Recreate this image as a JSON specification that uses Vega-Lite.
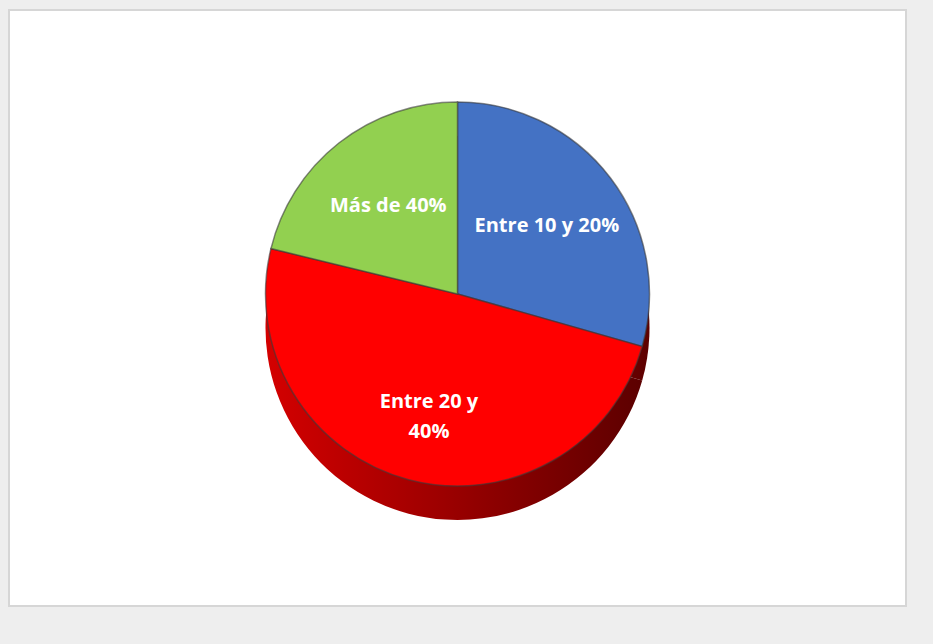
{
  "$schema": "https://vega.github.io/schema/vega-lite/v6.json",
  "width": 897,
  "height": 596,
  "padding": {"left": 9, "top": 10, "right": 27, "bottom": 38},
  "autosize": {"type": "none"},
  "background": "#eeeeee",
  "view": {"fill": "white", "stroke": "#d6d6d6", "strokeWidth": 2},
  "data": {"values": [
    {"categoria": "Entre 10 y 20%", "etiqueta": "Entre 10 y 20%", "valor": 29.4, "o": 1},
    {"categoria": "Entre 20 y 40%", "etiqueta": "Entre 20 y\n40%", "valor": 49.4, "o": 2},
    {"categoria": "Más de 40%", "etiqueta": "Más de 40%", "valor": 21.2, "o": 3}
  ]},
  "encoding": {
    "theta": {"field": "valor", "type": "quantitative", "stack": true},
    "order": {"field": "o", "type": "quantitative"}
  },
  "layer": [
    {
      "mark": {"type": "arc", "outerRadius": 192, "yOffset": 20,
        "color": {"gradient": "linear", "x1": 0, "x2": 1, "y1": 0, "y2": 0,
          "stops": [{"offset": 0, "color": "#d40000"}, {"offset": 0.5, "color": "#990000"}, {"offset": 1, "color": "#5c0000"}]}}
    },
    {
      "mark": {"type": "arc", "outerRadius": 192, "yOffset": -14, "stroke": "#3a3a3a", "strokeWidth": 1.5, "strokeOpacity": 0.6},
      "encoding": {
        "color": {"field": "categoria", "type": "nominal", "legend": null,
          "scale": {"domain": ["Entre 10 y 20%", "Entre 20 y 40%", "Más de 40%"], "range": ["#4472c4", "#ff0000", "#92d050"]}}
      }
    },
    {
      "mark": {"type": "text", "radius": 112, "yOffset": -14, "fill": "white", "font": "Open Sans", "fontWeight": "bold", "fontSize": 20, "lineBreak": "\n", "lineHeight": 30},
      "encoding": {"text": {"field": "etiqueta", "type": "nominal"}}
    }
  ]
}
